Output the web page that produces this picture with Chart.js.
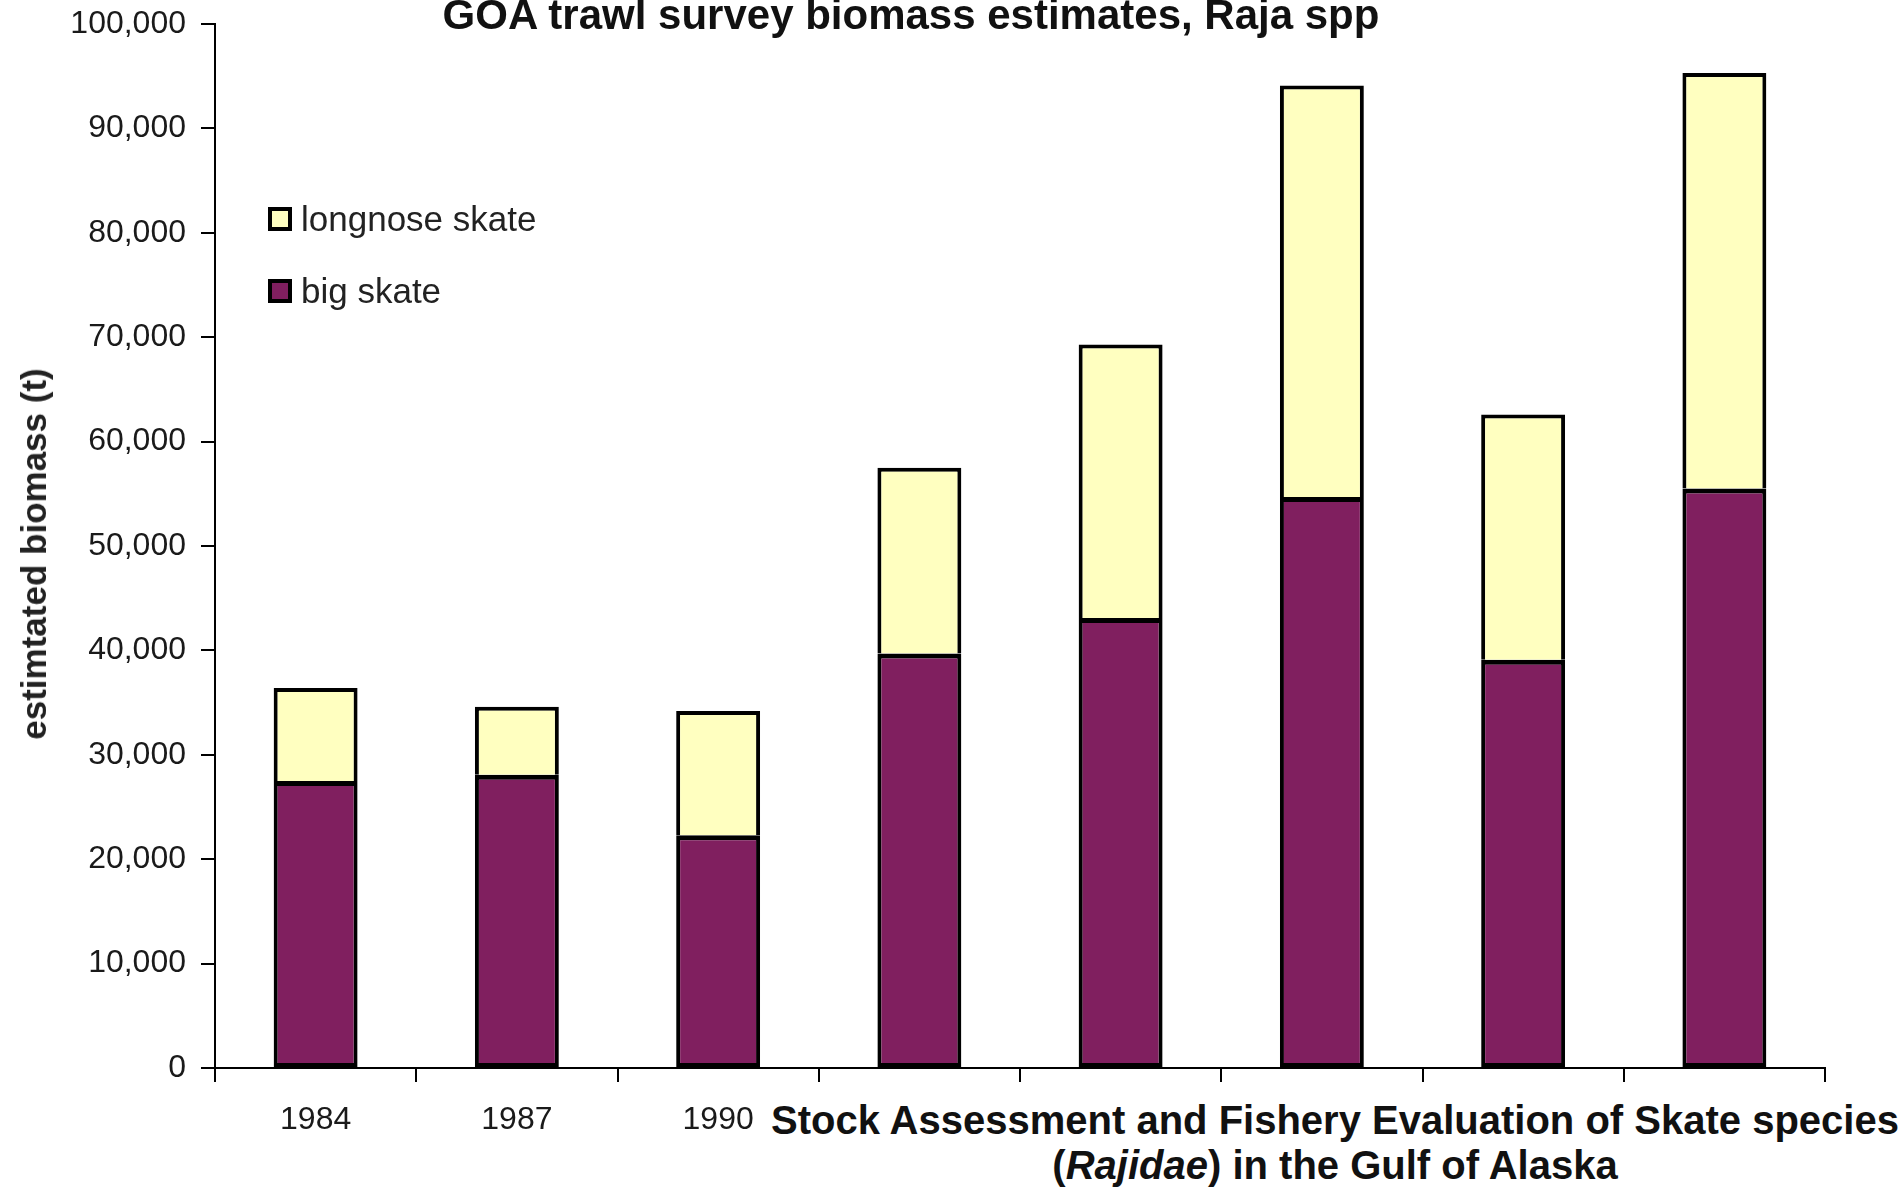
<!DOCTYPE html>
<html>
<head>
<meta charset="utf-8">
<script src="https://cdn.jsdelivr.net/npm/chart.js@4/dist/chart.umd.min.js"></script>
<style>
  html, body { margin: 0; padding: 0; background: #fff; overflow: hidden; }
  #wrap { position: relative; width: 1899px; height: 1191px; }
  #c { position: absolute; left: 0; top: 0; }
  .txt { position: absolute; font-family: "Liberation Sans", Arial, sans-serif; color: #111; white-space: nowrap; }
  #title { left: 0; top: -9px; width: 1822px; text-align: center; font-size: 42px; font-weight: bold; line-height: 47px; }
  #note { left: 770px; top: 1098px; width: 1130px; text-align: center; font-size: 40px; font-weight: bold; line-height: 45px; background: #fff; padding-bottom: 10px; }
  #ytitle { left: 34px; top: 554px; font-size: 35px; font-weight: bold; color: #222; line-height: 40px; transform: translate(-50%, -50%) rotate(-90deg); }
  #legend { position: absolute; left: 268px; top: 0; font-family: "Liberation Sans", Arial, sans-serif; }
  .lrow { position: absolute; left: 0; display: flex; align-items: center; white-space: nowrap; font-size: 35px; color: #222; height: 40px; }
  .lbox { width: 24px; height: 24px; box-sizing: border-box; border: 4px solid #000; margin-right: 9px; }
</style>
</head>
<body>
<div id="wrap">
  <canvas id="c" width="1899" height="1191"></canvas>
  <div id="title" class="txt">GOA trawl survey biomass estimates, Raja spp</div>
  <div id="ytitle" class="txt"></div>
  <div id="legend"></div>
  <div id="note" class="txt">Stock Assessment and Fishery Evaluation of Skate species<br>(<i>Rajidae</i>) in the Gulf of Alaska</div>
</div>
<script>
// ---- data ----
const years = ['1984', '1987', '1990', '1993', '1996', '1999', '2001', '2003'];
const bigSkate = [27500, 28100, 22300, 39700, 43100, 54700, 39100, 55500];
const longnoseSkate = [8900, 6500, 11900, 17800, 26200, 39400, 23500, 39800];
const seriesNames = ['big skate', 'longnose skate'];
const seriesColors = ['#801F5F', '#FFFFC0'];
const yMax = 100000;
const yStep = 10000;
const yTitle = 'estimtated biomass (t)';

const FONT = '"Liberation Sans", Arial, sans-serif';

document.getElementById('ytitle').textContent = yTitle;

const chart = new Chart(document.getElementById('c'), {
  type: 'bar',
  data: {
    labels: years,
    datasets: [
      {
        label: seriesNames[0],
        data: bigSkate,
        backgroundColor: seriesColors[0],
        borderColor: '#000',
        borderWidth: { top: 5, left: 4, right: 4, bottom: 4 },
        borderSkipped: false,
        inflateAmount: 0,
        barPercentage: 0.417,
        categoryPercentage: 1.0
      },
      {
        label: seriesNames[1],
        data: longnoseSkate,
        backgroundColor: seriesColors[1],
        borderColor: '#000',
        borderWidth: { top: 4, left: 4, right: 4, bottom: 0 },
        borderSkipped: false,
        inflateAmount: 0,
        barPercentage: 0.417,
        categoryPercentage: 1.0
      }
    ]
  },
  options: {
    responsive: false,
    animation: false,
    events: [],
    layout: { padding: { top: 24, right: 74, bottom: 0, left: 0 } },
    plugins: {
      legend: { display: false },
      tooltip: { enabled: false },
      title: { display: false }
    },
    scales: {
      x: {
        stacked: true,
        border: { display: true, color: '#000', width: 2 },
        grid: { display: true, offset: true, drawOnChartArea: false, drawTicks: true, tickLength: 14, color: '#000', lineWidth: 2 },
        ticks: { color: '#1a1a1a', font: { family: FONT, size: 32 }, padding: 19, maxRotation: 0, autoSkip: false },
        afterFit: (s) => { s.height = 123; s.paddingLeft = 0; s.paddingRight = 0; }
      },
      y: {
        stacked: true,
        min: 0,
        max: yMax,
        border: { display: true, color: '#000', width: 2 },
        grid: { display: true, drawOnChartArea: false, drawTicks: true, tickLength: 14, color: '#000', lineWidth: 2 },
        ticks: {
          stepSize: yStep,
          color: '#1a1a1a',
          font: { family: FONT, size: 32 },
          padding: 15,
          callback: (v) => Number(v).toLocaleString('en-US')
        },
        title: { display: false },
        afterFit: (s) => { s.width = 215; s.paddingTop = 0; s.paddingBottom = 0; }
      }
    }
  }
});

// ---- legend built from the series arrays (longnose listed first, as in the reference) ----
const legend = document.getElementById('legend');
const order = [1, 0];
const rowCenters = [219, 291];
order.forEach((idx, i) => {
  const row = document.createElement('div');
  row.className = 'lrow';
  row.style.top = (rowCenters[i] - 20) + 'px';
  const box = document.createElement('div');
  box.className = 'lbox';
  box.style.background = seriesColors[idx];
  const lab = document.createElement('span');
  lab.textContent = seriesNames[idx];
  row.appendChild(box);
  row.appendChild(lab);
  legend.appendChild(row);
});
</script>
</body>
</html>
